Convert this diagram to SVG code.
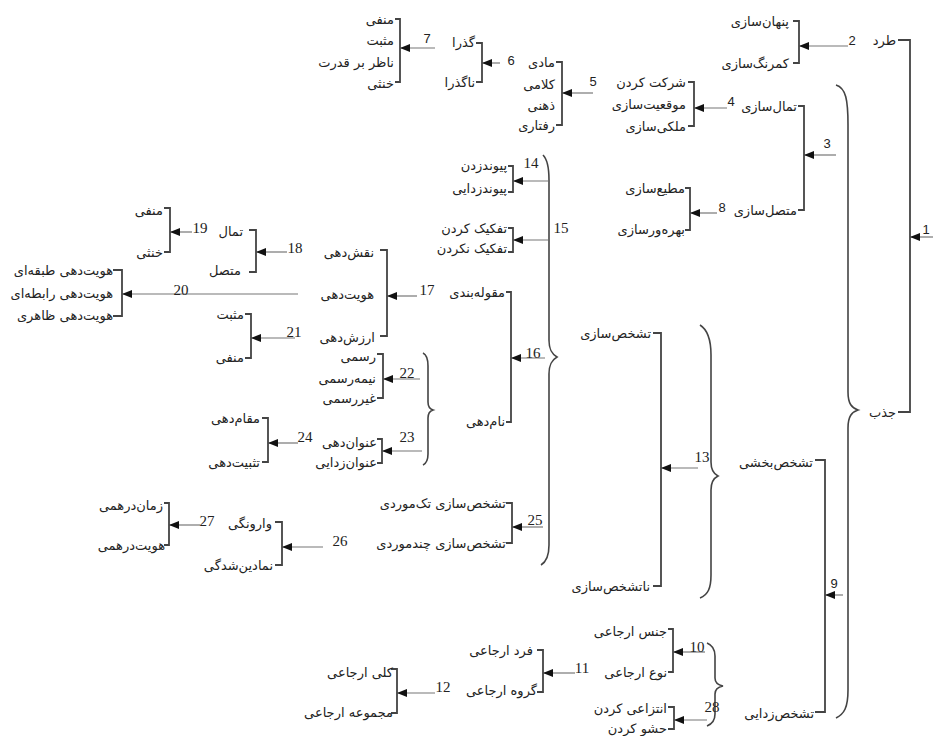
<svg xmlns="http://www.w3.org/2000/svg" width="933" height="736" viewBox="0 0 933 736">
  <style>
    .t { font-family: "DejaVu Sans", "Noto Sans", sans-serif; font-size: 13px; fill: #222; text-anchor: end; dominant-baseline: central; }
    .n { font-family: "Liberation Serif", serif; font-size: 15px; fill: #222; text-anchor: middle; dominant-baseline: central; }
    .s { font-family: "Liberation Sans", sans-serif; font-size: 13px; fill: #222; text-anchor: middle; dominant-baseline: central; }
    .br { fill: none; stroke: #444; stroke-width: 1.8; }
    .brace { fill: none; stroke: #444; stroke-width: 1.6; }
    .ar { fill: none; stroke: #777; stroke-width: 1.2; marker-end: url(#head); }
  </style>
  <defs>
    <marker id="head" viewBox="0 0 10 8" refX="10" refY="4" markerWidth="10" markerHeight="8" markerUnits="userSpaceOnUse" orient="auto">
      <path d="M0,0 L10,4 L0,8 Z" fill="#111"/>
    </marker>
  </defs>
  <rect width="933" height="736" fill="#fff"/>

  <!-- curly braces -->
  <g id="braces">
    <path class="brace" d="M836,85 C846,88 848,100 848,125 V392 C848,404 852,408 858,410 C852,412 848,416 848,428 V690 C848,708 844,714 836,718"/>
    <path class="brace" d="M543,155 C548,160 549,168 549,180 V340 C549,350 552,354 557,357 C552,360 549,364 549,374 V545 C549,556 546,562 541,565"/>
    <path class="brace" d="M423,353 C427,355 428,360 428,366 V402 C428,407 430,409 433,410 C430,411 428,413 428,418 V454 C428,460 427,463 423,465"/>
    <path class="brace" d="M700,325 C708,330 711,340 711,355 V462 C711,470 714,474 718,476 C714,478 711,482 711,490 V575 C711,588 708,595 700,598"/>
    <path class="brace" d="M707,643 C712,645 715,649 715,656 V678 C715,683 718,685 723,686 C718,687 715,689 715,694 V714 C715,720 712,724 707,726"/>
  </g>

  <!-- connectors: numbered arrows -->
  <g id="connectors">
    <path class="ar" d="M933,237 H910"/>
    <path class="ar" d="M848,46 H799"/>
    <path class="ar" d="M836,155 H804"/>
    <path class="ar" d="M727,108 H694"/>
    <path class="ar" d="M593,93 H562"/>
    <path class="ar" d="M500,63 H482"/>
    <path class="ar" d="M435,48 H400"/>
    <path class="ar" d="M717,213 H690"/>
    <path class="ar" d="M843,595 H825"/>
    <path class="ar" d="M705,652 H673"/>
    <path class="ar" d="M575,673 H543"/>
    <path class="ar" d="M435,693 H397"/>
    <path class="ar" d="M698,468 H661"/>
    <path class="ar" d="M548,181 H513"/>
    <path class="ar" d="M548,240 H513"/>
    <path class="ar" d="M545,358 H511"/>
    <path class="ar" d="M417,296 H387"/>
    <path class="ar" d="M287,252 H256"/>
    <path class="ar" d="M192,232 H170"/>
    <path class="ar" d="M298,294 H122"/>
    <path class="ar" d="M295,338 H251"/>
    <path class="ar" d="M420,379 H383"/>
    <path class="ar" d="M422,451 H382"/>
    <path class="ar" d="M298,443 H268"/>
    <path class="ar" d="M543,527 H512"/>
    <path class="ar" d="M323,547 H282"/>
    <path class="ar" d="M200,525 H169"/>
    <path class="ar" d="M707,720 H674"/>

    <text class="s" x="926" y="229">1</text>
    <text class="s" x="852" y="40">2</text>
    <text class="s" x="827" y="143">3</text>
    <text class="s" x="731" y="101">4</text>
    <text class="s" x="593" y="81">5</text>
    <text class="s" x="511" y="60">6</text>
    <text class="s" x="427" y="38">7</text>
    <text class="s" x="722" y="207">8</text>
    <text class="s" x="834" y="583">9</text>
    <text class="n" x="697" y="647">10</text>
    <text class="n" x="582" y="668">11</text>
    <text class="n" x="443" y="687">12</text>
    <text class="n" x="702" y="457">13</text>
    <text class="n" x="531" y="163">14</text>
    <text class="n" x="561" y="228">15</text>
    <text class="n" x="533" y="353">16</text>
    <text class="n" x="427" y="290">17</text>
    <text class="n" x="295" y="248">18</text>
    <text class="n" x="200" y="228">19</text>
    <text class="n" x="181" y="290">20</text>
    <text class="n" x="294" y="332">21</text>
    <text class="n" x="407" y="373">22</text>
    <text class="n" x="407" y="437">23</text>
    <text class="n" x="305" y="437">24</text>
    <text class="n" x="535" y="520">25</text>
    <text class="n" x="340" y="541">26</text>
    <text class="n" x="207" y="521">27</text>
    <text class="n" x="712" y="707">28</text>
  </g>

  <!-- bracketed groups -->
  <g id="n1">
    <path class="br" d="M898,40 H910 V412 H898"/>
    <text class="t" x="896" y="40">طرد</text>
    <text class="t" x="896" y="412">جذب</text>
  </g>
  <g id="n2">
    <path class="br" d="M793,21 H799 V63 H793"/>
    <text class="t" x="789" y="21">پنهان‌سازی</text>
    <text class="t" x="789" y="63">کمرنگ‌سازی</text>
  </g>
  <g id="n3">
    <path class="br" d="M798,106 H804 V210 H798"/>
    <text class="t" x="797" y="106">تمال‌سازی</text>
    <text class="t" x="797" y="210">متصل‌سازی</text>
  </g>
  <g id="n4">
    <path class="br" d="M688,82 H694 V126 H688"/>
    <text class="t" x="686" y="82">شرکت کردن</text>
    <text class="t" x="686" y="104">موقعیت‌سازی</text>
    <text class="t" x="686" y="126">ملکی‌سازی</text>
  </g>
  <g id="n8">
    <path class="br" d="M685,188 H690 V230 H685"/>
    <text class="t" x="685" y="188">مطیع‌سازی</text>
    <text class="t" x="685" y="229">بهره‌ورسازی</text>
  </g>
  <g id="n7">
    <path class="br" d="M395,19 H400 V82 H395"/>
    <text class="t" x="394" y="19">منفی</text>
    <text class="t" x="394" y="40">مثبت</text>
    <text class="t" x="394" y="62">ناظر بر قدرت</text>
    <text class="t" x="394" y="83">خنثی</text>
  </g>
  <g id="n6">
    <path class="br" d="M476,43 H482 V82 H476"/>
    <text class="t" x="475" y="42">گذرا</text>
    <text class="t" x="475" y="82">ناگذرا</text>
  </g>
  <g id="n5">
    <path class="br" d="M556,62 H562 V125 H556"/>
    <text class="t" x="555" y="62">مادی</text>
    <text class="t" x="555" y="84">کلامی</text>
    <text class="t" x="555" y="105">ذهنی</text>
    <text class="t" x="555" y="125">رفتاری</text>
  </g>
  <g id="n14">
    <path class="br" d="M508,166 H513 V192 H508"/>
    <text class="t" x="507" y="165">پیوندزدن</text>
    <text class="t" x="507" y="188">پیوندزدایی</text>
  </g>
  <g id="n15">
    <path class="br" d="M508,228 H513 V252 H508"/>
    <text class="t" x="507" y="228">تفکیک کردن</text>
    <text class="t" x="507" y="248">تفکیک نکردن</text>
  </g>
  <g id="n16">
    <path class="br" d="M506,292 H511 V422 H506"/>
    <text class="t" x="505" y="292">مقوله‌بندی</text>
    <text class="t" x="505" y="421">نام‌دهی</text>
  </g>
  <g id="n17">
    <path class="br" d="M380,250 H387 V336 H380"/>
    <text class="t" x="374" y="252">نقش‌دهی</text>
    <text class="t" x="374" y="294">هویت‌دهی</text>
    <text class="t" x="375" y="337">ارزش‌دهی</text>
  </g>
  <g id="n18">
    <path class="br" d="M249,230 H256 V272 H249"/>
    <text class="t" x="243" y="231">تمال</text>
    <text class="t" x="241" y="270">متصل</text>
  </g>
  <g id="n19">
    <path class="br" d="M164,208 H170 V252 H164"/>
    <text class="t" x="163" y="210">منفی</text>
    <text class="t" x="163" y="252">خنثی</text>
  </g>
  <g id="n20">
    <path class="br" d="M113,270 H122 V316 H113"/>
    <text class="t" x="113" y="270">هویت‌دهی طبقه‌ای</text>
    <text class="t" x="113" y="293">هویت‌دهی رابطه‌ای</text>
    <text class="t" x="113" y="315">هویت‌دهی ظاهری</text>
  </g>
  <g id="n21">
    <path class="br" d="M245,314 H251 V358 H245"/>
    <text class="t" x="244" y="314">مثبت</text>
    <text class="t" x="244" y="357">منفی</text>
  </g>
  <g id="n22">
    <path class="br" d="M377,354 H383 V398 H377"/>
    <text class="t" x="376" y="356">رسمی</text>
    <text class="t" x="376" y="378">نیمه‌رسمی</text>
    <text class="t" x="376" y="398">غیررسمی</text>
  </g>
  <g id="n23">
    <path class="br" d="M377,439 H382 V463 H377"/>
    <text class="t" x="377" y="442">عنوان‌دهی</text>
    <text class="t" x="377" y="462">عنوان‌زدایی</text>
  </g>
  <g id="n24">
    <path class="br" d="M262,418 H268 V462 H262"/>
    <text class="t" x="260" y="418">مقام‌دهی</text>
    <text class="t" x="260" y="462">تثبیت‌دهی</text>
  </g>
  <g id="n13">
    <path class="br" d="M653,333 H661 V586 H653"/>
    <text class="t" x="651" y="333">تشخص‌سازی</text>
    <text class="t" x="650" y="586">ناتشخص‌سازی</text>
  </g>
  <g id="n9">
    <path class="br" d="M815,460 H825 V712 H815"/>
    <text class="t" x="813" y="462">تشخص‌بخشی</text>
    <text class="t" x="814" y="713">تشخص‌زدایی</text>
  </g>
  <g id="n25">
    <path class="br" d="M506,503 H512 V543 H506"/>
    <text class="t" x="506" y="503">تشخص‌سازی تک‌موردی</text>
    <text class="t" x="506" y="543">تشخص‌سازی چندموردی</text>
  </g>
  <g id="n26">
    <path class="br" d="M275,522 H282 V565 H275"/>
    <text class="t" x="272" y="523">وارونگی</text>
    <text class="t" x="273" y="565">نمادین‌شدگی</text>
  </g>
  <g id="n27">
    <path class="br" d="M164,503 H169 V545 H164"/>
    <text class="t" x="163" y="505">زمان‌درهمی</text>
    <text class="t" x="165" y="545">هویت‌درهمی</text>
  </g>
  <g id="n10">
    <path class="br" d="M668,629 H673 V672 H668"/>
    <text class="t" x="667" y="631">جنس ارجاعی</text>
    <text class="t" x="667" y="672">نوع ارجاعی</text>
  </g>
  <g id="n28">
    <path class="br" d="M668,707 H674 V729 H668"/>
    <text class="t" x="667" y="708">انتزاعی کردن</text>
    <text class="t" x="667" y="728">حشو کردن</text>
  </g>
  <g id="n11">
    <path class="br" d="M537,650 H543 V692 H537"/>
    <text class="t" x="533" y="650">فرد ارجاعی</text>
    <text class="t" x="537" y="690">گروه ارجاعی</text>
  </g>
  <g id="n12">
    <path class="br" d="M391,669 H397 V713 H391"/>
    <text class="t" x="393" y="672">کلی ارجاعی</text>
    <text class="t" x="393" y="712">مجموعه ارجاعی</text>
  </g>
</svg>
